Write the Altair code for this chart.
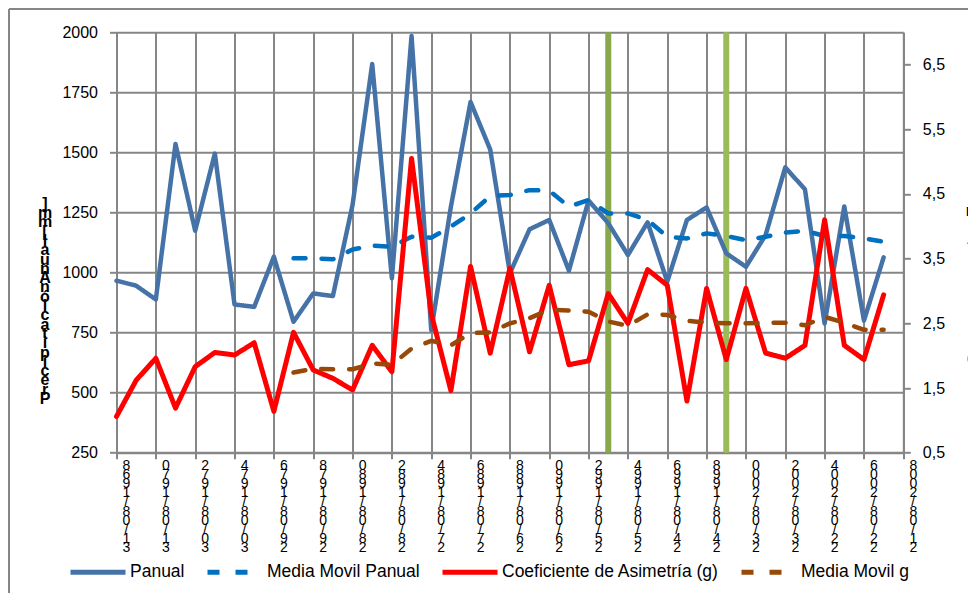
import json
import pandas as pd
import altair as alt

# ---------------- data ----------------
years = list(range(1968, 2008))
panual = [966, 945, 888, 1535, 1174, 1495, 867, 857, 1066, 795,
          913, 902, 1281, 1868, 976, 1985, 760, 1274, 1710, 1512,
          997, 1180, 1219, 1008, 1300, 1205, 1073, 1209, 962, 1219,
          1271, 1080, 1024, 1156, 1438, 1346, 788, 1275, 800, 1063]
mm_years = list(range(1977, 2008))
mm_panual = [1059, 1059, 1055, 1096, 1112, 1107, 1149, 1145, 1191, 1246,
             1318, 1323, 1343, 1341, 1274, 1302, 1246, 1246, 1219, 1149,
             1142, 1163, 1152, 1135, 1149, 1166, 1174, 1152, 1152, 1142, 1128]
coef = [1.06, 1.62, 1.96, 1.19, 1.83, 2.05, 2.01, 2.20, 1.14, 2.36,
        1.78, 1.65, 1.47, 2.16, 1.75, 5.05, 2.65, 1.46, 3.38, 2.04,
        3.35, 2.06, 3.09, 1.86, 1.92, 2.96, 2.50, 3.33, 3.09, 1.30,
        3.04, 1.94, 3.04, 2.04, 1.96, 2.16, 4.10, 2.16, 1.94, 2.94]
mm_g = [1.74, 1.80, 1.79, 1.79, 1.88, 1.86, 2.11, 2.23, 2.16, 2.35,
        2.36, 2.50, 2.58, 2.71, 2.70, 2.68, 2.53, 2.46, 2.64, 2.63,
        2.54, 2.51, 2.50, 2.50, 2.51, 2.51, 2.47, 2.60, 2.51, 2.40, 2.40]

tick_years = list(range(1968, 2009, 2))
tick_labels = ["31/08/1968", "31/08/1970", "30/08/1972", "30/08/1974",
               "29/08/1976", "29/08/1978", "28/08/1980", "28/08/1982",
               "27/08/1984", "27/08/1986", "26/08/1988", "26/08/1990",
               "25/08/1992", "25/08/1994", "24/08/1996", "24/08/1998",
               "23/08/2000", "23/08/2002", "22/08/2004", "22/08/2006",
               "21/08/2008"]
left_ticks = [250, 500, 750, 1000, 1250, 1500, 1750, 2000]
right_ticks = [0.5, 1.5, 2.5, 3.5, 4.5, 5.5, 6.5]
green_years = [1993, 1999]
green_colors = ["#89a84b", "#9bbb59"]

series_names = ["Panual", "Media Movil Panual",
                "Coeficiente de Asimetría (g)", "Media Movil g"]
series_colors = ["#4572A7", "#0070C0", "#FF0000", "#984807"]
series_dash = [[1, 0], [12, 16], [1, 0], [12, 16]]

left_title = "Precipitación Anual [mm]"
right_title = "Coeficiente de Asimetría (g)"

FONT = "Liberation Sans"
GRID = "#868686"
W, H = 786.8, 420.4

# ---------------- tables ----------------
df_panual = pd.DataFrame({"year": years, "value": panual, "series": series_names[0]})
df_mmp = pd.DataFrame({"year": mm_years, "value": mm_panual, "series": series_names[1]})
df_coef = pd.DataFrame({"year": years, "value": coef, "series": series_names[2]})
df_mmg = pd.DataFrame({"year": mm_years, "value": mm_g, "series": series_names[3]})
df_green = pd.DataFrame({"year": green_years, "c": green_colors})
df_ticks = pd.DataFrame({"year": tick_years, "label": tick_labels})

x_scale = alt.Scale(domain=[1968, 2008], nice=False, zero=False)
x_axis = alt.Axis(
    values=tick_years, labels=False, title=None,
    grid=True, gridColor=GRID, gridWidth=2, gridOpacity=1,
    domainColor=GRID, domainWidth=2,
    tickColor=GRID, tickWidth=2, tickSize=6,
)
x_enc = alt.X("year:Q", scale=x_scale, axis=x_axis)

legend = alt.Legend(
    orient="none", legendX=-48.5, legendY=510, direction="horizontal",
    columns=4, title=None, symbolType="stroke", symbolSize=3025,
    symbolStrokeWidth=5, labelFont=FONT, labelFontSize=17.5, labelColor="#000",
    columnPadding=12, labelOffset=2, labelLimit=400,
)
color_enc = alt.Color("series:N",
                      scale=alt.Scale(domain=series_names, range=series_colors),
                      legend=legend)
dash_enc = alt.StrokeDash("series:N",
                          scale=alt.Scale(domain=series_names, range=series_dash),
                          legend=legend)

left_axis = alt.Axis(
    values=left_ticks, orient="left", format="d",
    grid=True, gridColor=GRID, gridWidth=2, gridOpacity=1,
    domainColor=GRID, domainWidth=2, tickColor=GRID, tickWidth=2, tickSize=7,
    labelFont=FONT, labelFontSize=16, labelColor="#000", labelPadding=12,
    title=list(reversed(left_title)), titleAngle=0, titleX=-72, titleY=163,
    titleAlign="center", titleBaseline="top", titleFont=FONT,
    titleFontSize=16, titleFontWeight="bold", titleColor="#000",
    titleLineHeight=9.3,
)
right_axis = alt.Axis(
    values=right_ticks, orient="right", grid=False,
    domainColor=GRID, domainWidth=2, tickColor=GRID, tickWidth=2, tickSize=7,
    labelFont=FONT, labelFontSize=16, labelColor="#000", labelPadding=12,
    labelExpr="replace(format(datum.value, '.1f'), '.', ',')",
    title=list(reversed(right_title)), titleAngle=0, titleX=69, titleY=96,
    titleAlign="center", titleBaseline="top", titleFont=FONT,
    titleFontSize=16, titleFontWeight="bold", titleColor="#000",
    titleLineHeight=9.3,
)

y_left = alt.Y("value:Q", scale=alt.Scale(domain=[250, 2000], nice=False, zero=False),
               axis=left_axis)
y_right = alt.Y("value:Q", scale=alt.Scale(domain=[0.5, 7], nice=False, zero=False),
                axis=right_axis)

green = alt.Chart(df_green).mark_rule(strokeWidth=6).encode(
    x=x_enc, color=alt.Color("c:N", scale=None))

# stacked (vertical, reversed) date labels of the category axis
xlabels = alt.Chart(df_ticks).transform_calculate(
    stacked="join(reverse(split(datum.label, '')), '|')"
).mark_text(
    font=FONT, fontSize=14, color="#000", align="center", baseline="top",
    lineBreak="|", lineHeight=9.2, dx=10,
).encode(x=x_enc, y=alt.value(H + 6), text="stacked:N")

def line(df, width, y):
    return alt.Chart(df).mark_line(strokeWidth=width, strokeCap="round",
                                   strokeJoin="round").encode(
        x=x_enc, y=y, color=color_enc, strokeDash=dash_enc)

left = alt.layer(line(df_panual, 4.5, y_left), line(df_mmp, 4.5, y_left))
right = alt.layer(line(df_coef, 5, y_right), line(df_mmg, 4.5, y_right))

frame_df = pd.DataFrame({"k": [0]})
frame_left = alt.Chart(frame_df).mark_rule(color=GRID, strokeWidth=2).encode(
    x=alt.value(-107.5), y=alt.value(-23.3), y2=alt.value(570))
frame_top = alt.Chart(frame_df).mark_rule(color=GRID, strokeWidth=2).encode(
    x=alt.value(-107.5), x2=alt.value(860), y=alt.value(-23.3))

chart = alt.layer(green, xlabels, left, right, frame_left, frame_top).resolve_scale(
    y="independent"
).properties(
    width=W, height=H,
    autosize=alt.AutoSizeParams(type="none"),
    padding={"left": 108.5, "top": 24.3, "right": 64.7, "bottom": 140.3},
    background="white",
).configure_view(stroke=None)

chart.save("out.html", embed_options={"renderer": "svg", "actions": False})
